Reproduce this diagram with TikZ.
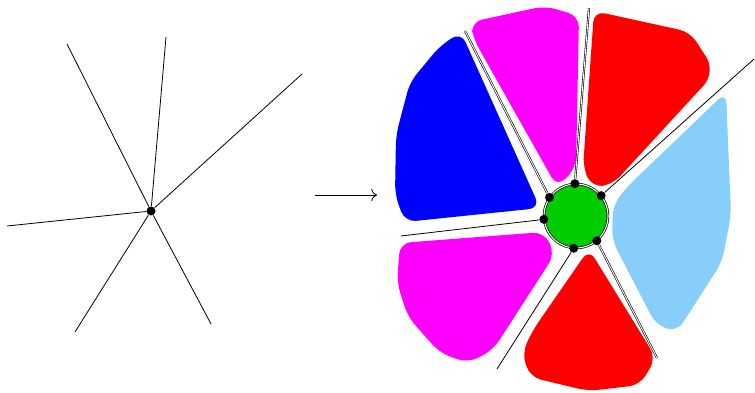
\documentclass[tikz,border=0pt]{standalone}
\usepackage{xcolor}
\usepackage{tikz}
\usetikzlibrary{positioning,arrows.meta}
\definecolor{skyfill}{RGB}{135,206,250}
\definecolor{hubgreen}{RGB}{0,204,0}
\definecolor{pinkfill}{RGB}{255,0,255}
\definecolor{redfill}{RGB}{255,0,0}
\definecolor{bluefill}{RGB}{0,0,255}

\begin{document}
\begin{tikzpicture}[x=1pt, y=-1pt, >={To[scale=1.7]}, line width=0.8pt,
			vertex/.style={circle, fill=black, inner sep=0pt, minimum size=9pt},
			hub/.style={circle, fill=hubgreen, draw=black, double=white, double distance=1.1pt, line width=0.7pt, inner sep=0pt, minimum size=64pt},
			blob/.style={rounded corners=11pt},
			wire/.style={double=white, double distance=0.9pt, line width=0.6pt}]
			\useasboundingbox (0,0) rectangle (755,393);

			\node[vertex] (c) at (151,211) {};
			\coordinate (a1) at (67,44);
			\coordinate (a2) at (166,37);
			\coordinate (a3) at (302,74);
			\coordinate (a4) at (7,226);
			\coordinate (a5) at (75,332);
			\coordinate (a6) at (211,324);
			\path[draw]
			(c) -- (a1) (c) -- (a2) (c) -- (a3)
			(c) -- (a4) (c) -- (a5) (c) -- (a6);

			\coordinate (s) at (315,195);
			\coordinate (t) at (377,195);
			\draw[->] (s) -- (t);

			\fill[bluefill, blob] (461,32) -- (540,208) -- (405,222) -- (395,195) -- (396,135) -- (410,82) -- (440,46) -- cycle;
			\fill[pinkfill, blob] (471,22) -- (545,6) -- (579,16) -- (576,168) -- (557,187) -- (473,38) -- cycle;
			\fill[redfill, blob] (594,11) -- (690,32) [rounded corners=18pt] -- (716,72) [rounded corners=11pt] -- (612,185) -- (592,187) -- (583,168) -- cycle;
			\fill[skyfill, blob] (726,92) -- (731,215) -- (722,262) -- (677,332) -- (656,325) -- (612,240) -- (613,205) -- (627,187) -- cycle;
			\fill[pinkfill, blob] (400,243) -- (544,232) -- (555,254) -- (493,350) -- (468,363) -- (440,353) -- (408,317) -- (397,283) -- cycle;
			\fill[redfill, blob] (589,249) -- (656,358) -- (640,385) -- (588,391) -- (530,377) -- (522,353) -- (533,330) -- cycle;

			\node[hub] (h) at (576,216) {};
			\node[vertex] (p1) at (h.92) {};
			\node[vertex] (p2) at (h.39) {};
			\node[vertex] (p3) at (h.145) {};
			\node[vertex] (p4) at (h.186) {};
			\node[vertex] (p5) at (h.266) {};
			\node[vertex] (p6) at (h.310) {};
			\coordinate (b1) at (589,8);
			\coordinate (b2) at (754,59);
			\coordinate (b3) at (465,31);
			\coordinate (b4) at (401,236);
			\coordinate (b5) at (497,369);
			\coordinate (b6) at (657,358);
			\draw[wire] (p1) -- (b1);
			\draw[wire] (p3) -- (b3);
			\draw[wire] (p6) -- (b6);
			\draw (p2) -- (b2);
			\draw (p4) -- (b4);
			\draw (p5) -- (b5);
		\end{tikzpicture}
\end{document}
